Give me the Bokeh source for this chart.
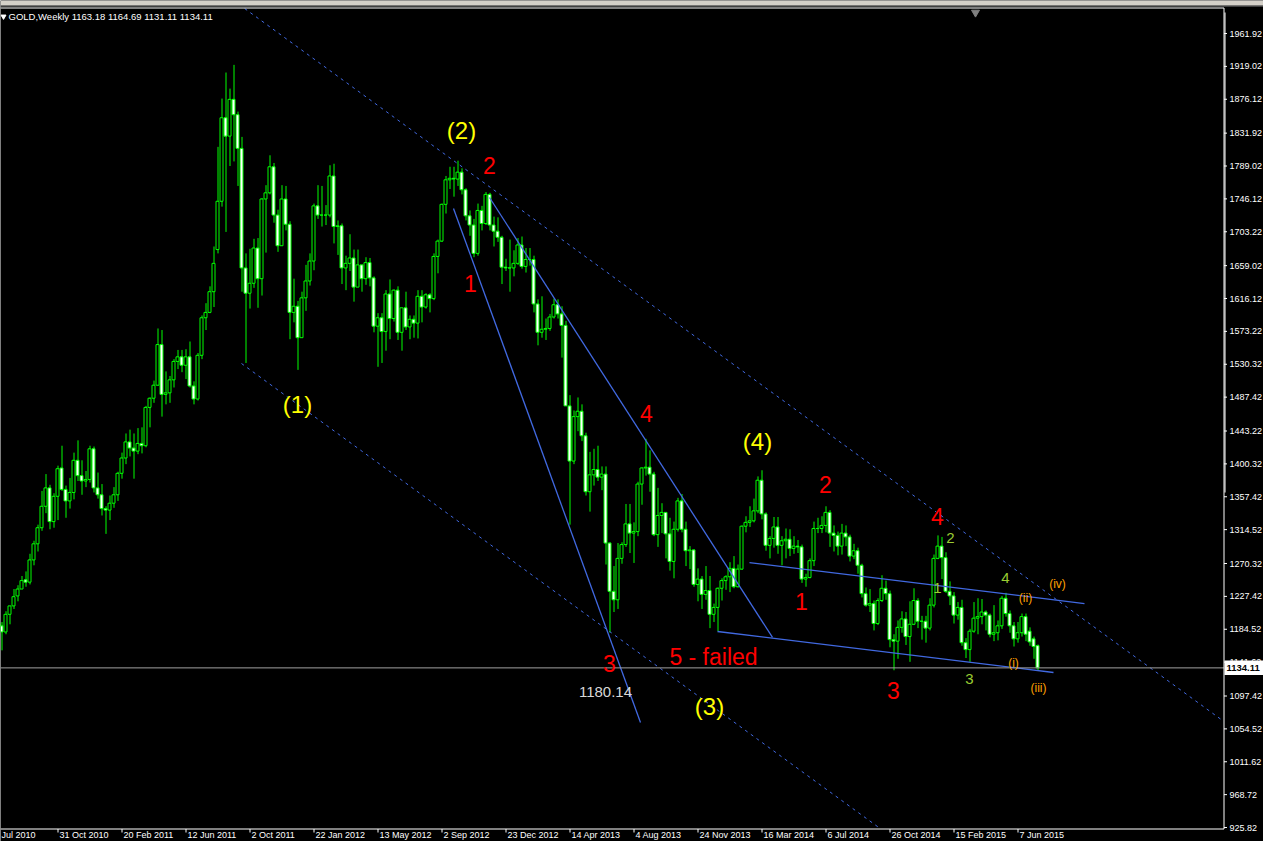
import numpy as np
from bokeh.plotting import figure
from bokeh.models import Range1d, ColumnDataSource
from bokeh.core.properties import value
from bokeh.transform import dodge
from bokeh.embed import file_html
from bokeh.resources import INLINE

# Weekly GOLD bars, first bar = week of 18 Jul 2010, last = week of 12 Jul 2015
open_ = [
    1192, 1189, 1181, 1204, 1215, 1228, 1237, 1249, 1246, 1275,
    1296, 1317, 1345, 1369, 1325, 1358, 1395, 1367, 1352, 1363,
    1405, 1385, 1378, 1380, 1420, 1369, 1360, 1342, 1340, 1349,
    1360, 1388, 1408, 1429, 1421, 1417, 1427, 1424, 1474, 1486,
    1503, 1556, 1491, 1493, 1510, 1534, 1540, 1529, 1540, 1502,
    1485, 1542, 1591, 1598, 1625, 1680, 1743, 1852, 1828, 1876,
    1856, 1812, 1656, 1623, 1636, 1682, 1642, 1746, 1754, 1788,
    1725, 1685, 1746, 1713, 1598, 1606, 1565, 1617, 1639, 1665,
    1737, 1725, 1725, 1725, 1776, 1710, 1711, 1656, 1662, 1669,
    1631, 1660, 1642, 1663, 1643, 1580, 1591, 1573, 1622, 1590,
    1627, 1572, 1604, 1579, 1589, 1584, 1619, 1605, 1621, 1616,
    1671, 1691, 1739, 1771, 1773, 1772, 1781, 1758, 1724, 1712,
    1675, 1731, 1714, 1752, 1712, 1704, 1696, 1657, 1656, 1656,
    1662, 1686, 1658, 1667, 1667, 1609, 1572, 1576, 1577, 1592,
    1608, 1596, 1581, 1476, 1404, 1462, 1469, 1437, 1364, 1386,
    1393, 1383, 1387, 1297, 1234, 1223, 1277, 1295, 1322, 1310,
    1312, 1374, 1395, 1396, 1387, 1308, 1333, 1337, 1309, 1273,
    1315, 1352, 1315, 1287, 1288, 1243, 1250, 1230, 1235, 1204,
    1213, 1238, 1248, 1253, 1264, 1240, 1263, 1319, 1324, 1326,
    1339, 1379, 1335, 1294, 1303, 1318, 1294, 1300, 1302, 1290,
    1293, 1292, 1250, 1252, 1274, 1316, 1316, 1320, 1337, 1310,
    1307, 1293, 1310, 1305, 1280, 1287, 1268, 1231, 1216, 1218,
    1192, 1222, 1238, 1231, 1171, 1169, 1187, 1198, 1175, 1191,
    1222, 1195, 1195, 1186, 1216, 1277, 1293, 1278, 1234, 1228,
    1203, 1213, 1167, 1158, 1182, 1199, 1201, 1207, 1203, 1178,
    1180, 1189, 1225, 1205, 1189, 1172, 1180, 1201, 1182, 1172,
    1163.18,
]
high = [
    1201, 1194, 1208, 1215, 1237, 1242, 1254, 1260, 1283, 1300,
    1321, 1365, 1387, 1373, 1362, 1398, 1424, 1372, 1382, 1415,
    1431, 1405, 1391, 1424, 1423, 1389, 1374, 1345, 1359, 1370,
    1390, 1415, 1440, 1445, 1440, 1447, 1448, 1476, 1487, 1509,
    1577, 1575, 1521, 1515, 1537, 1549, 1549, 1550, 1560, 1508,
    1545, 1594, 1610, 1632, 1684, 1814, 1877, 1911, 1890, 1921,
    1860, 1827, 1675, 1681, 1694, 1695, 1747, 1764, 1803, 1793,
    1732, 1764, 1763, 1717, 1642, 1613, 1625, 1660, 1675, 1740,
    1764, 1763, 1738, 1790, 1792, 1718, 1714, 1672, 1700, 1680,
    1680, 1660, 1670, 1669, 1645, 1597, 1597, 1627, 1641, 1628,
    1632, 1604, 1625, 1594, 1594, 1627, 1627, 1623, 1623, 1675,
    1693, 1740, 1776, 1788, 1788, 1796, 1786, 1760, 1731, 1720,
    1740, 1737, 1755, 1754, 1723, 1722, 1698, 1668, 1693, 1679,
    1695, 1697, 1682, 1682, 1672, 1615, 1619, 1590, 1596, 1616,
    1615, 1606, 1587, 1490, 1470, 1487, 1478, 1441, 1416, 1420,
    1424, 1397, 1397, 1298, 1267, 1297, 1298, 1348, 1348, 1324,
    1377, 1396, 1433, 1418, 1390, 1369, 1349, 1337, 1330, 1325,
    1356, 1361, 1325, 1293, 1289, 1264, 1254, 1267, 1254, 1218,
    1239, 1251, 1255, 1272, 1280, 1269, 1320, 1332, 1345, 1355,
    1384, 1392, 1337, 1306, 1331, 1331, 1306, 1316, 1315, 1306,
    1301, 1295, 1257, 1277, 1325, 1330, 1332, 1345, 1340, 1320,
    1312, 1322, 1320, 1308, 1296, 1291, 1270, 1239, 1237, 1222,
    1225, 1255, 1248, 1235, 1178, 1196, 1208, 1207, 1221, 1238,
    1225, 1202, 1202, 1225, 1282, 1307, 1305, 1285, 1247, 1233,
    1220, 1223, 1173, 1185, 1220, 1225, 1224, 1209, 1205, 1216,
    1196, 1228, 1232, 1209, 1194, 1194, 1205, 1205, 1187, 1175,
    1164.69,
]
low = [
    1176, 1157, 1178, 1191, 1211, 1221, 1237, 1240, 1243, 1268,
    1286, 1313, 1336, 1315, 1317, 1327, 1365, 1330, 1342, 1354,
    1378, 1360, 1370, 1376, 1363, 1355, 1333, 1309, 1327, 1343,
    1352, 1381, 1400, 1410, 1381, 1413, 1414, 1422, 1448, 1480,
    1502, 1462, 1478, 1480, 1500, 1524, 1520, 1511, 1500, 1478,
    1483, 1537, 1575, 1597, 1605, 1675, 1736, 1703, 1789, 1795,
    1763, 1625, 1532, 1603, 1630, 1604, 1620, 1676, 1752, 1715,
    1677, 1685, 1705, 1563, 1585, 1523, 1565, 1600, 1633, 1653,
    1720, 1710, 1712, 1722, 1688, 1673, 1635, 1627, 1652, 1612,
    1631, 1625, 1634, 1632, 1572, 1527, 1532, 1548, 1563, 1586,
    1562, 1548, 1575, 1563, 1565, 1564, 1585, 1603, 1598, 1614,
    1649, 1690, 1727, 1759, 1749, 1763, 1752, 1718, 1698, 1670,
    1672, 1705, 1712, 1705, 1684, 1690, 1635, 1652, 1625, 1645,
    1660, 1655, 1650, 1659, 1598, 1555, 1565, 1562, 1574, 1590,
    1590, 1539, 1476, 1321, 1400, 1443, 1430, 1359, 1338, 1372,
    1378, 1366, 1269, 1180.14, 1207, 1211, 1270, 1292, 1284, 1271,
    1306, 1347, 1385, 1364, 1306, 1292, 1310, 1277, 1261, 1251,
    1312, 1311, 1267, 1263, 1240, 1221, 1211, 1223, 1186, 1194,
    1182, 1222, 1236, 1233, 1238, 1239, 1262, 1311, 1318, 1324,
    1336, 1328, 1287, 1277, 1291, 1283, 1268, 1277, 1280, 1283,
    1284, 1245, 1240, 1251, 1267, 1310, 1310, 1311, 1292, 1286,
    1281, 1282, 1293, 1273, 1276, 1257, 1226, 1214, 1207, 1183,
    1190, 1220, 1223, 1161, 1131, 1146, 1180, 1164, 1142, 1190,
    1186, 1171, 1167, 1183, 1213, 1276, 1250, 1232, 1216, 1192,
    1197, 1163, 1147, 1142, 1180, 1178, 1191, 1183, 1174, 1169,
    1170, 1185, 1201, 1180, 1162, 1167, 1175, 1169, 1163, 1146,
    1131.11,
]
close = [
    1188, 1181, 1204, 1215, 1227, 1237, 1248, 1246, 1275, 1296,
    1317, 1345, 1369, 1325, 1358, 1394, 1367, 1352, 1363, 1405,
    1385, 1378, 1380, 1420, 1369, 1360, 1342, 1340, 1349, 1360,
    1388, 1408, 1429, 1421, 1417, 1427, 1424, 1474, 1486, 1503,
    1556, 1491, 1493, 1510, 1534, 1540, 1529, 1540, 1502, 1485,
    1542, 1591, 1598, 1625, 1662, 1743, 1852, 1828, 1876, 1856,
    1812, 1656, 1623, 1636, 1682, 1642, 1746, 1754, 1788, 1725,
    1685, 1746, 1713, 1598, 1606, 1565, 1617, 1639, 1665, 1737,
    1725, 1725, 1725, 1776, 1710, 1711, 1656, 1662, 1669, 1631,
    1660, 1642, 1663, 1643, 1580, 1591, 1573, 1622, 1590, 1627,
    1572, 1604, 1579, 1589, 1584, 1619, 1605, 1621, 1616, 1671,
    1691, 1739, 1771, 1773, 1772, 1781, 1758, 1724, 1712, 1675,
    1731, 1714, 1752, 1712, 1704, 1696, 1657, 1656, 1656, 1662,
    1686, 1658, 1667, 1667, 1609, 1572, 1576, 1577, 1592, 1608,
    1596, 1581, 1476, 1404, 1462, 1469, 1437, 1364, 1386, 1393,
    1383, 1387, 1297, 1234, 1223, 1277, 1295, 1322, 1310, 1312,
    1374, 1395, 1396, 1387, 1308, 1333, 1337, 1309, 1273, 1315,
    1352, 1315, 1287, 1288, 1243, 1250, 1230, 1235, 1204, 1213,
    1238, 1248, 1253, 1264, 1240, 1263, 1319, 1324, 1326, 1339,
    1379, 1335, 1294, 1303, 1318, 1294, 1300, 1302, 1290, 1293,
    1292, 1250, 1252, 1274, 1316, 1316, 1320, 1337, 1310, 1307,
    1293, 1310, 1305, 1280, 1287, 1268, 1231, 1216, 1218, 1192,
    1222, 1238, 1231, 1171, 1169, 1187, 1198, 1175, 1191, 1222,
    1195, 1195, 1186, 1216, 1277, 1293, 1278, 1234, 1228, 1203,
    1213, 1167, 1158, 1182, 1199, 1201, 1207, 1203, 1178, 1180,
    1189, 1225, 1205, 1189, 1172, 1180, 1201, 1178, 1168, 1162,
    1134.11,
]

# Time scale labels (bar number of each labelled week)
date_bars = [-1, 15, 31, 47, 63, 79, 95, 111, 127, 143, 159, 175, 191, 207, 223, 239, 255]
date_labels = ["Jul 2010", "31 Oct 2010", "20 Feb 2011", "12 Jun 2011", "2 Oct 2011",
               "22 Jan 2012", "13 May 2012", "2 Sep 2012", "23 Dec 2012", "14 Apr 2013",
               "4 Aug 2013", "24 Nov 2013", "16 Mar 2014", "6 Jul 2014", "26 Oct 2014",
               "15 Feb 2015", "7 Jun 2015"]

# Price scale labels
price_ticks = [925.82, 968.72, 1011.62, 1054.52, 1097.42, 1141.62, 1184.52, 1227.42,
               1270.32, 1314.52, 1357.42, 1400.32, 1443.22, 1487.42, 1530.32, 1573.22,
               1616.12, 1659.02, 1703.22, 1746.12, 1789.02, 1831.92, 1876.12, 1919.02,
               1961.92]

last_price = 1134.11
header = "GOLD,Weekly  1163.18 1164.69 1131.11 1134.11"

# Elliott wave labels: bar, price, text
major_text = ["(1)", "(2)", "(3)", "(4)"]
major_x = [75, 116, 178, 190]
major_y = [1478, 1835, 1084, 1430]

minor_text = ["2", "1", "4", "3", "5 - failed", "2", "1", "4", "3"]
minor_x = [123, 118.25, 162.25, 153, 179, 207, 201, 235, 224]
minor_y = [1790, 1636, 1466, 1140, 1148, 1373, 1221, 1332, 1105]

low_note_text = ["1180.14"]
low_note_x = [152]
low_note_y = [1103]

sub_text = ["2", "1", "4", "3"]
sub_x = [238.25, 235, 252, 243]
sub_y = [1303, 1239, 1251, 1119]

micro_text = ["(iv)", "(ii)", "(i)", "(iii)"]
micro_x = [265, 257, 254, 260.25]
micro_y = [1244, 1225, 1141, 1108.5]

# Channel lines (dotted) and trend lines (solid): start/end bar and price
chan_x0 = [61.8, 61]
chan_y0 = [1994.5, 1531.3]
chan_x1 = [306.25, 220.65]
chan_y1 = [1065.5, 924.6]

trend_x0 = [114, 123, 180, 188]
trend_y0 = [1733.6, 1747.9, 1181.6, 1271.6]
trend_x1 = [160.75, 193.75, 264, 271.75]
trend_y1 = [1062.9, 1173.8, 1128.1, 1218.1]

FONT = "Liberation Sans"
GREEN = "#00FF00"
BLUE = "#4169E1"

# Window geometry: 4 px per weekly bar, 1.30491 price units per px
BAR_PER_PX = 0.25
PRICE_PER_PX = 1.30491
X_LO = 0.75
X_HI = X_LO + 1263 * BAR_PER_PX
Y_HI = 2004.99
Y_LO = Y_HI - 841 * PRICE_PER_PX


def bx(px):
    return X_LO + px * BAR_PER_PX


def py(px):
    return Y_HI - px * PRICE_PER_PX


o = np.array(open_, dtype=float)
c = np.array(close, dtype=float)
bars = np.arange(len(close))
src = ColumnDataSource(dict(
    x=bars, high=high, low=low,
    top=np.maximum(o, c), bottom=np.minimum(o, c),
    fill=np.where(c > o, "black", "white"),
))

p = figure(width=1263, height=841,
           x_range=Range1d(X_LO, X_HI), y_range=Range1d(Y_LO, Y_HI),
           x_axis_location=None, y_axis_location=None,
           output_backend="svg", toolbar_location=None,
           background_fill_color="black", border_fill_color="black", min_border=0)
p.outline_line_color = None
p.grid.visible = False

# candles
p.segment(x0=dodge("x", 0.125), y0="low", x1=dodge("x", 0.125), y1="high",
          source=src, line_color=GREEN, line_width=1)
p.vbar(x="x", width=0.75, top="top", bottom="bottom", source=src,
       fill_color="fill", line_color=GREEN, line_width=1)

# channel and trend lines
p.segment(x0=chan_x0, y0=chan_y0, x1=chan_x1, y1=chan_y1,
          line_color=BLUE, line_width=1, line_dash="3 4")
p.segment(x0=trend_x0, y0=trend_y0, x1=trend_x1, y1=trend_y1,
          line_color=BLUE, line_width=1.3)

# chart window frame and scales
AX = bx(1223.5)
top_y = py(7.5)
bot_y = py(828.5)
p.quad(left=[X_LO], right=[X_HI], bottom=[py(5)], top=[Y_HI],
       fill_color="#D4D0C8", line_color=None)
p.segment(x0=[X_LO], y0=[py(5.5)], x1=[X_HI], y1=[py(5.5)], line_color="#808080", line_width=1)

# last price line
p.segment(x0=[X_LO], y0=[last_price], x1=[AX], y1=[last_price],
          line_color="#A0A0A0", line_width=1)

p.segment(x0=[X_LO, X_LO, AX, bx(1224.5)], y0=[top_y, bot_y, top_y, py(12)],
          x1=[AX, AX, AX, bx(1224.5)], y1=[top_y, bot_y, bot_y, py(492)],
          line_color="white", line_width=1)

# price scale
p.segment(x0=[AX] * len(price_ticks), y0=price_ticks,
          x1=[bx(1226.5)] * len(price_ticks), y1=price_ticks,
          line_color="white", line_width=1)
p.text(x=[bx(1229)] * len(price_ticks), y=price_ticks, text=["%.2f" % t for t in price_ticks],
       text_color="white", text_font=value(FONT), text_font_size=value("9px"),
       text_align="left", text_baseline="middle")

# time scale; a label whose tick lies left of the window starts at the window edge
db = np.array(date_bars, dtype=float)
p.segment(x0=db + 0.125, y0=[bot_y] * len(db), x1=db + 0.125, y1=[py(832)] * len(db),
          line_color="white", line_width=1)
p.text(x=np.maximum(db + 0.5, bx(1)), y=[py(834.5)] * len(db), text=date_labels,
       text_color="white", text_font=value(FONT), text_font_size=value("9px"),
       text_align="left", text_baseline="middle")

# current price box on the price scale
p.quad(left=[bx(1224)], right=[X_HI], bottom=[last_price - 7 * PRICE_PER_PX],
       top=[last_price + 7.5 * PRICE_PER_PX], fill_color="white", line_color=None)
p.text(x=[bx(1226)], y=[last_price], text=["%.2f" % last_price], text_color="black",
       text_font=value(FONT), text_font_size=value("9.5px"), text_font_style="bold",
       text_align="left", text_baseline="middle")


def labels(xs, ys, texts, color, size):
    p.text(x=xs, y=ys, text=texts, text_color=color, text_font=value(FONT),
           text_font_size=value(size), text_align="center", text_baseline="middle")


labels(major_x, major_y, major_text, "#FFFF00", "24px")
labels(minor_x, minor_y, minor_text, "#FF0000", "23px")
labels(low_note_x, low_note_y, low_note_text, "#D8D8D8", "15px")
labels(sub_x, sub_y, sub_text, "#9ACD32", "15px")
labels(micro_x, micro_y, micro_text, "#FFA000", "12px")

# header line
p.text(x=[bx(8)], y=[py(16)], text=[header], text_color="white", text_font=value(FONT),
       text_font_size=value("9.5px"), text_align="left", text_baseline="middle")
p.scatter(x=[bx(3)], y=[py(16)], marker="inverted_triangle", size=5,
          fill_color="white", line_color="white")
p.scatter(x=[bx(975)], y=[py(12)], marker="inverted_triangle", size=8,
          fill_color="#808080", line_color="#808080")

open("out.html", "w").write(file_html(p, INLINE))
